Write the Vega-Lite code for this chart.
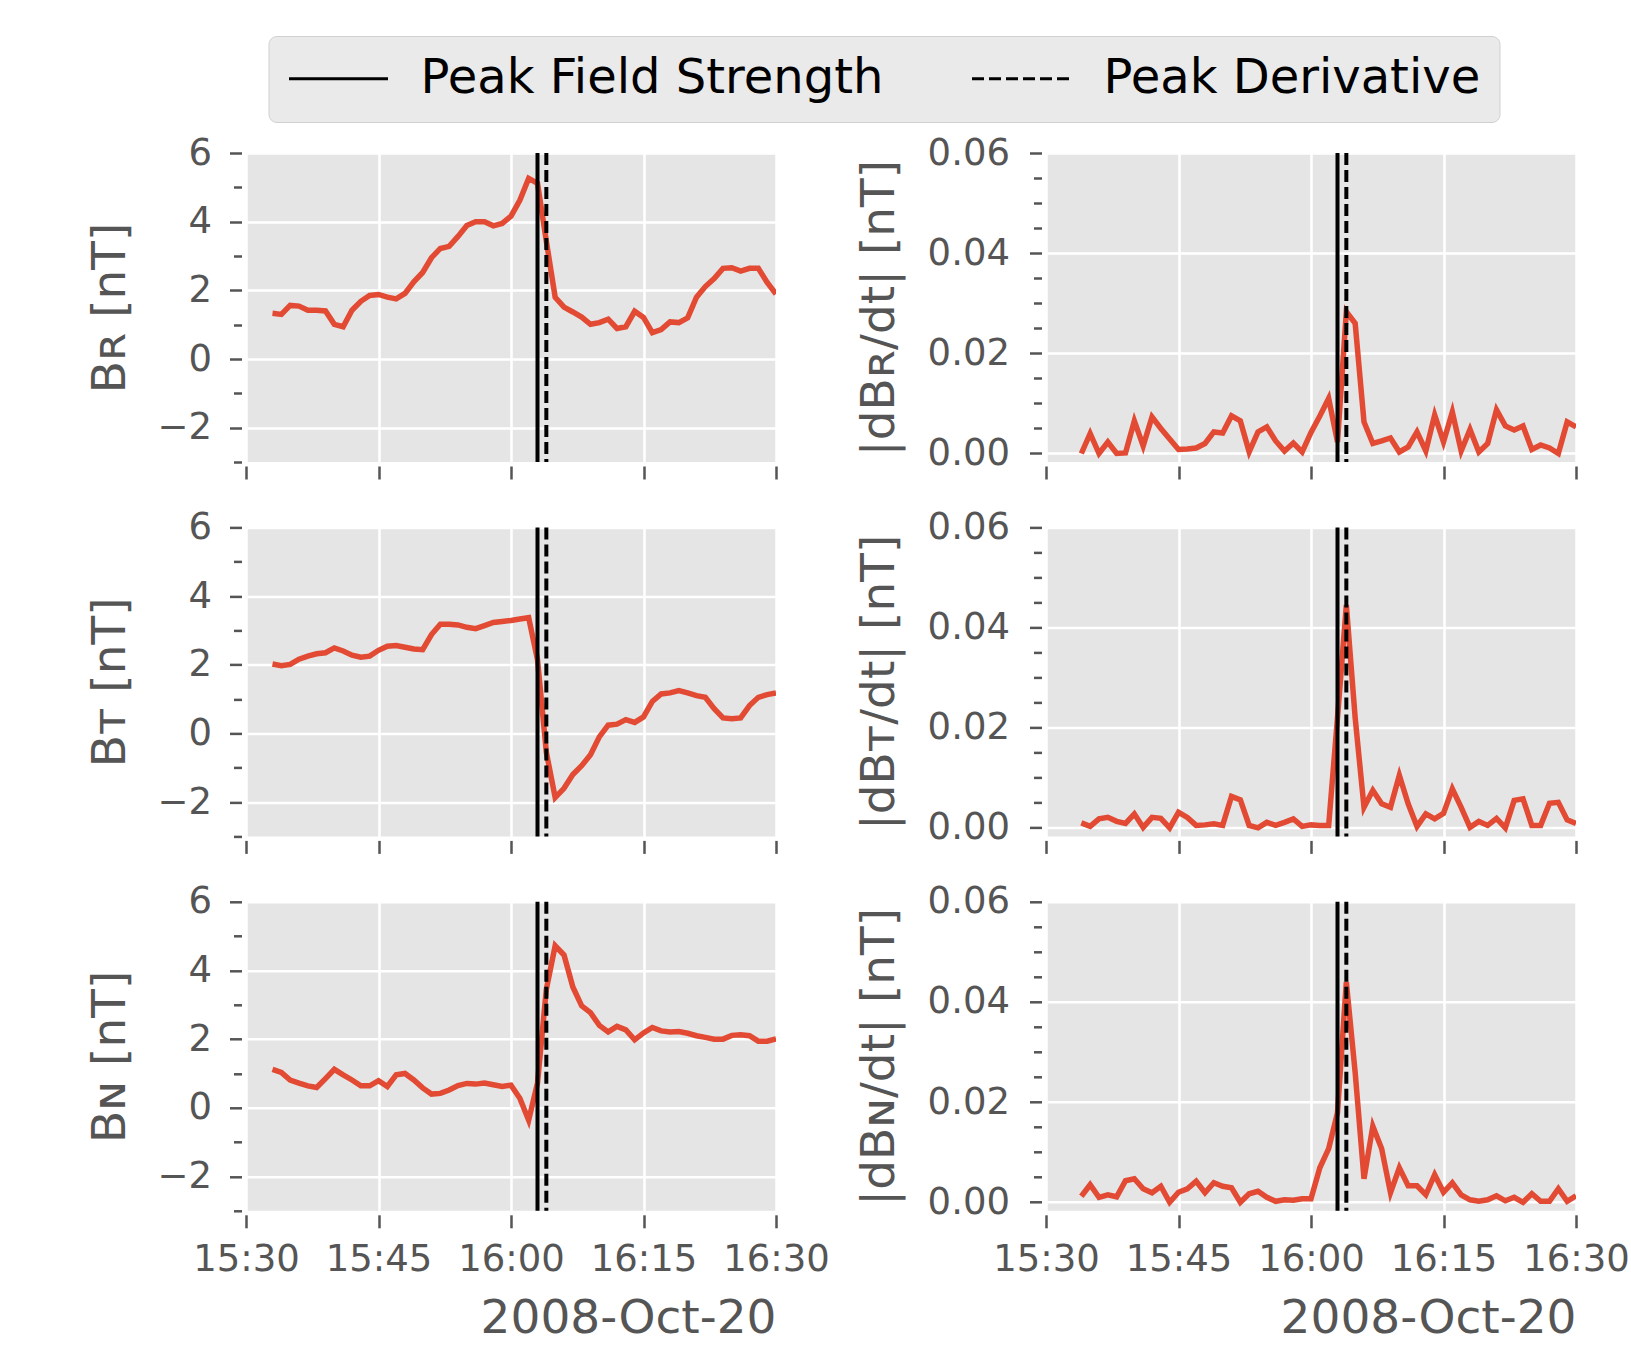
{
"$schema": "https://vega.github.io/schema/vega-lite/v6.json",
"background": "white",
"padding": {"left": 86, "top": 35, "right": 5, "bottom": 5},
"autosize": {"type": "pad"},
"datasets": {
"B": [
{"t":"2008-10-20T15:33:00Z","BR":1.33,"BT":2.02,"BN":1.12},
{"t":"2008-10-20T15:34:00Z","BR":1.30,"BT":1.97,"BN":1.03},
{"t":"2008-10-20T15:35:00Z","BR":1.56,"BT":2.01,"BN":0.81},
{"t":"2008-10-20T15:36:00Z","BR":1.54,"BT":2.16,"BN":0.72},
{"t":"2008-10-20T15:37:00Z","BR":1.42,"BT":2.25,"BN":0.64},
{"t":"2008-10-20T15:38:00Z","BR":1.42,"BT":2.32,"BN":0.59},
{"t":"2008-10-20T15:39:00Z","BR":1.40,"BT":2.35,"BN":0.85},
{"t":"2008-10-20T15:40:00Z","BR":1.01,"BT":2.49,"BN":1.12},
{"t":"2008-10-20T15:41:00Z","BR":0.94,"BT":2.40,"BN":0.96},
{"t":"2008-10-20T15:42:00Z","BR":1.42,"BT":2.28,"BN":0.81},
{"t":"2008-10-20T15:43:00Z","BR":1.68,"BT":2.22,"BN":0.64},
{"t":"2008-10-20T15:44:00Z","BR":1.85,"BT":2.25,"BN":0.64},
{"t":"2008-10-20T15:45:00Z","BR":1.88,"BT":2.42,"BN":0.79},
{"t":"2008-10-20T15:46:00Z","BR":1.80,"BT":2.54,"BN":0.62},
{"t":"2008-10-20T15:47:00Z","BR":1.75,"BT":2.56,"BN":0.96},
{"t":"2008-10-20T15:48:00Z","BR":1.91,"BT":2.51,"BN":1.00},
{"t":"2008-10-20T15:49:00Z","BR":2.25,"BT":2.46,"BN":0.81},
{"t":"2008-10-20T15:50:00Z","BR":2.52,"BT":2.44,"BN":0.58},
{"t":"2008-10-20T15:51:00Z","BR":2.95,"BT":2.88,"BN":0.40},
{"t":"2008-10-20T15:52:00Z","BR":3.22,"BT":3.18,"BN":0.42},
{"t":"2008-10-20T15:53:00Z","BR":3.28,"BT":3.18,"BN":0.52},
{"t":"2008-10-20T15:54:00Z","BR":3.57,"BT":3.16,"BN":0.65},
{"t":"2008-10-20T15:55:00Z","BR":3.89,"BT":3.09,"BN":0.71},
{"t":"2008-10-20T15:56:00Z","BR":4.00,"BT":3.05,"BN":0.69},
{"t":"2008-10-20T15:57:00Z","BR":4.00,"BT":3.14,"BN":0.72},
{"t":"2008-10-20T15:58:00Z","BR":3.88,"BT":3.23,"BN":0.67},
{"t":"2008-10-20T15:59:00Z","BR":3.95,"BT":3.26,"BN":0.62},
{"t":"2008-10-20T16:00:00Z","BR":4.16,"BT":3.29,"BN":0.66},
{"t":"2008-10-20T16:01:00Z","BR":4.62,"BT":3.33,"BN":0.28},
{"t":"2008-10-20T16:02:00Z","BR":5.26,"BT":3.37,"BN":-0.36},
{"t":"2008-10-20T16:03:00Z","BR":5.12,"BT":2.15,"BN":0.72},
{"t":"2008-10-20T16:04:00Z","BR":3.43,"BT":-0.55,"BN":3.45},
{"t":"2008-10-20T16:05:00Z","BR":1.80,"BT":-1.87,"BN":4.72},
{"t":"2008-10-20T16:06:00Z","BR":1.51,"BT":-1.60,"BN":4.45},
{"t":"2008-10-20T16:07:00Z","BR":1.37,"BT":-1.20,"BN":3.52},
{"t":"2008-10-20T16:08:00Z","BR":1.22,"BT":-0.94,"BN":2.97},
{"t":"2008-10-20T16:09:00Z","BR":1.01,"BT":-0.62,"BN":2.77},
{"t":"2008-10-20T16:10:00Z","BR":1.06,"BT":-0.10,"BN":2.40},
{"t":"2008-10-20T16:11:00Z","BR":1.16,"BT":0.24,"BN":2.21},
{"t":"2008-10-20T16:12:00Z","BR":0.89,"BT":0.27,"BN":2.37},
{"t":"2008-10-20T16:13:00Z","BR":0.94,"BT":0.40,"BN":2.27},
{"t":"2008-10-20T16:14:00Z","BR":1.39,"BT":0.32,"BN":1.98},
{"t":"2008-10-20T16:15:00Z","BR":1.21,"BT":0.48,"BN":2.18},
{"t":"2008-10-20T16:16:00Z","BR":0.77,"BT":0.93,"BN":2.34},
{"t":"2008-10-20T16:17:00Z","BR":0.86,"BT":1.15,"BN":2.24},
{"t":"2008-10-20T16:18:00Z","BR":1.08,"BT":1.18,"BN":2.21},
{"t":"2008-10-20T16:19:00Z","BR":1.06,"BT":1.25,"BN":2.22},
{"t":"2008-10-20T16:20:00Z","BR":1.20,"BT":1.18,"BN":2.17},
{"t":"2008-10-20T16:21:00Z","BR":1.80,"BT":1.10,"BN":2.10},
{"t":"2008-10-20T16:22:00Z","BR":2.11,"BT":1.05,"BN":2.05},
{"t":"2008-10-20T16:23:00Z","BR":2.34,"BT":0.72,"BN":2.00},
{"t":"2008-10-20T16:24:00Z","BR":2.64,"BT":0.45,"BN":2.00},
{"t":"2008-10-20T16:25:00Z","BR":2.66,"BT":0.43,"BN":2.11},
{"t":"2008-10-20T16:26:00Z","BR":2.56,"BT":0.45,"BN":2.13},
{"t":"2008-10-20T16:27:00Z","BR":2.64,"BT":0.81,"BN":2.10},
{"t":"2008-10-20T16:28:00Z","BR":2.64,"BT":1.05,"BN":1.94},
{"t":"2008-10-20T16:29:00Z","BR":2.23,"BT":1.13,"BN":1.94},
{"t":"2008-10-20T16:30:00Z","BR":1.89,"BT":1.18,"BN":2.01}
],
"dB": [
{"t":"2008-10-20T15:34:00Z","dBR":0.0,"dBT":0.001,"dBN":0.0012},
{"t":"2008-10-20T15:35:00Z","dBR":0.004,"dBT":0.0003,"dBN":0.0035},
{"t":"2008-10-20T15:36:00Z","dBR":0.0,"dBT":0.0018,"dBN":0.001},
{"t":"2008-10-20T15:37:00Z","dBR":0.0023,"dBT":0.0021,"dBN":0.0015},
{"t":"2008-10-20T15:38:00Z","dBR":0.0,"dBT":0.0013,"dBN":0.0011},
{"t":"2008-10-20T15:39:00Z","dBR":0.0001,"dBT":0.0009,"dBN":0.0043},
{"t":"2008-10-20T15:40:00Z","dBR":0.0065,"dBT":0.0028,"dBN":0.0047},
{"t":"2008-10-20T15:41:00Z","dBR":0.0015,"dBT":0.0001,"dBN":0.0027},
{"t":"2008-10-20T15:42:00Z","dBR":0.0073,"dBT":0.0021,"dBN":0.0019},
{"t":"2008-10-20T15:43:00Z","dBR":0.005,"dBT":0.0019,"dBN":0.0032},
{"t":"2008-10-20T15:44:00Z","dBR":0.0029,"dBT":0.0,"dBN":0.0},
{"t":"2008-10-20T15:45:00Z","dBR":0.0008,"dBT":0.0031,"dBN":0.002},
{"t":"2008-10-20T15:46:00Z","dBR":0.0009,"dBT":0.0021,"dBN":0.0027},
{"t":"2008-10-20T15:47:00Z","dBR":0.0011,"dBT":0.0005,"dBN":0.0042},
{"t":"2008-10-20T15:48:00Z","dBR":0.002,"dBT":0.0006,"dBN":0.0019},
{"t":"2008-10-20T15:49:00Z","dBR":0.0043,"dBT":0.0008,"dBN":0.0039},
{"t":"2008-10-20T15:50:00Z","dBR":0.0041,"dBT":0.0005,"dBN":0.0032},
{"t":"2008-10-20T15:51:00Z","dBR":0.0075,"dBT":0.0063,"dBN":0.0029},
{"t":"2008-10-20T15:52:00Z","dBR":0.0065,"dBT":0.0056,"dBN":0.0},
{"t":"2008-10-20T15:53:00Z","dBR":0.0003,"dBT":0.0005,"dBN":0.0017},
{"t":"2008-10-20T15:54:00Z","dBR":0.0043,"dBT":0.0,"dBN":0.0022},
{"t":"2008-10-20T15:55:00Z","dBR":0.0053,"dBT":0.0011,"dBN":0.001},
{"t":"2008-10-20T15:56:00Z","dBR":0.0025,"dBT":0.0005,"dBN":0.0002},
{"t":"2008-10-20T15:57:00Z","dBR":0.0005,"dBT":0.0011,"dBN":0.0005},
{"t":"2008-10-20T15:58:00Z","dBR":0.0021,"dBT":0.0018,"dBN":0.0004},
{"t":"2008-10-20T15:59:00Z","dBR":0.0003,"dBT":0.0003,"dBN":0.0007},
{"t":"2008-10-20T16:00:00Z","dBR":0.0042,"dBT":0.0006,"dBN":0.0007},
{"t":"2008-10-20T16:01:00Z","dBR":0.0075,"dBT":0.0005,"dBN":0.0069},
{"t":"2008-10-20T16:02:00Z","dBR":0.011,"dBT":0.0005,"dBN":0.0107},
{"t":"2008-10-20T16:03:00Z","dBR":0.0023,"dBT":0.022,"dBN":0.0179},
{"t":"2008-10-20T16:04:00Z","dBR":0.0283,"dBT":0.0445,"dBN":0.044},
{"t":"2008-10-20T16:05:00Z","dBR":0.026,"dBT":0.022,"dBN":0.0259},
{"t":"2008-10-20T16:06:00Z","dBR":0.0063,"dBT":0.0041,"dBN":0.0047},
{"t":"2008-10-20T16:07:00Z","dBR":0.002,"dBT":0.0075,"dBN":0.0152},
{"t":"2008-10-20T16:08:00Z","dBR":0.0025,"dBT":0.0048,"dBN":0.0107},
{"t":"2008-10-20T16:09:00Z","dBR":0.0031,"dBT":0.0041,"dBN":0.0019},
{"t":"2008-10-20T16:10:00Z","dBR":0.0003,"dBT":0.0105,"dBN":0.0069},
{"t":"2008-10-20T16:11:00Z","dBR":0.0013,"dBT":0.0048,"dBN":0.0033},
{"t":"2008-10-20T16:12:00Z","dBR":0.0043,"dBT":0.0003,"dBN":0.0033},
{"t":"2008-10-20T16:13:00Z","dBR":0.0005,"dBT":0.0028,"dBN":0.0015},
{"t":"2008-10-20T16:14:00Z","dBR":0.0077,"dBT":0.0018,"dBN":0.0055},
{"t":"2008-10-20T16:15:00Z","dBR":0.0023,"dBT":0.0029,"dBN":0.002},
{"t":"2008-10-20T16:16:00Z","dBR":0.0083,"dBT":0.0078,"dBN":0.0039},
{"t":"2008-10-20T16:17:00Z","dBR":0.0005,"dBT":0.0041,"dBN":0.0015},
{"t":"2008-10-20T16:18:00Z","dBR":0.0048,"dBT":0.0001,"dBN":0.0005},
{"t":"2008-10-20T16:19:00Z","dBR":0.0003,"dBT":0.0013,"dBN":0.0002},
{"t":"2008-10-20T16:20:00Z","dBR":0.002,"dBT":0.0005,"dBN":0.0005},
{"t":"2008-10-20T16:21:00Z","dBR":0.0087,"dBT":0.0019,"dBN":0.0013},
{"t":"2008-10-20T16:22:00Z","dBR":0.0055,"dBT":0.0,"dBN":0.0003},
{"t":"2008-10-20T16:23:00Z","dBR":0.0047,"dBT":0.0055,"dBN":0.001},
{"t":"2008-10-20T16:24:00Z","dBR":0.0055,"dBT":0.0058,"dBN":0.0},
{"t":"2008-10-20T16:25:00Z","dBR":0.0008,"dBT":0.0005,"dBN":0.0017},
{"t":"2008-10-20T16:26:00Z","dBR":0.0017,"dBT":0.0005,"dBN":0.0002},
{"t":"2008-10-20T16:27:00Z","dBR":0.0011,"dBT":0.0049,"dBN":0.0002},
{"t":"2008-10-20T16:28:00Z","dBR":0.0,"dBT":0.0051,"dBN":0.0027},
{"t":"2008-10-20T16:29:00Z","dBR":0.0063,"dBT":0.0016,"dBN":0.0002},
{"t":"2008-10-20T16:30:00Z","dBR":0.0053,"dBT":0.0009,"dBN":0.0013}
],
"markers": [
{"t":"2008-10-20T16:03:00Z","type":"Peak Field Strength"},
{"t":"2008-10-20T16:04:00Z","type":"Peak Derivative"}
]
},
"columns": 2,
"spacing": {"row": 65.4, "column": 270},
"bounds": "flush",
"concat": [
{"width":530,"height":309,
 "encoding":{"x":{"field":"t","type":"temporal","scale":{"type":"utc","domain":[{"year":2008,"month":10,"date":20,"hours":15,"minutes":30,"utc":true},{"year":2008,"month":10,"date":20,"hours":16,"minutes":30,"utc":true}]},
  "axis":{"values":[{"year":2008,"month":10,"date":20,"hours":15,"minutes":30,"utc":true},{"year":2008,"month":10,"date":20,"hours":15,"minutes":45,"utc":true},{"year":2008,"month":10,"date":20,"hours":16,"minutes":0,"utc":true},{"year":2008,"month":10,"date":20,"hours":16,"minutes":15,"utc":true},{"year":2008,"month":10,"date":20,"hours":16,"minutes":30,"utc":true}],"labels":false,"title":null,"tickSize":13,"offset":4}}},
 "layer":[
  {"data":{"name":"B"},"mark":{"type":"line","color":"#E24A33","strokeWidth":5.5,"clip":true},
   "encoding":{"y":{"field":"BR","type":"quantitative","scale":{"domain":[-3,6],"nice":false,"zero":false},
    "axis":{"values":[-3,-2.5,-2,-1.5,-1,-0.5,0,0.5,1,1.5,2,2.5,3,3.5,4,4.5,5,5.5,6],"format":"d","labelExpr":"datum.value % 2 === 0 ? datum.label : ''","tickSize":{"condition":{"test":"datum.value % 2 === 0","value":12},"value":8},"gridOpacity":{"condition":{"test":"datum.value % 2 === 0","value":1},"value":0},"offset":4.5,"labelPadding":18,"title":"Bʀ [nT]","titlePadding":22}}}},
  {"data":{"name":"markers"},"mark":{"type":"rule","color":"black","strokeWidth":4},
   "encoding":{"strokeDash":{"field":"type","type":"nominal","scale":{"domain":["Peak Field Strength","Peak Derivative"],"range":[[1,0],[12,5]]},"legend":{"orient":"none","legendX":22.5,"legendY":-117,"direction":"horizontal","title":null}}}}
 ]},
{"width":530,"height":309,
 "encoding":{"x":{"field":"t","type":"temporal","scale":{"type":"utc","domain":[{"year":2008,"month":10,"date":20,"hours":15,"minutes":30,"utc":true},{"year":2008,"month":10,"date":20,"hours":16,"minutes":30,"utc":true}]},
  "axis":{"values":[{"year":2008,"month":10,"date":20,"hours":15,"minutes":30,"utc":true},{"year":2008,"month":10,"date":20,"hours":15,"minutes":45,"utc":true},{"year":2008,"month":10,"date":20,"hours":16,"minutes":0,"utc":true},{"year":2008,"month":10,"date":20,"hours":16,"minutes":15,"utc":true},{"year":2008,"month":10,"date":20,"hours":16,"minutes":30,"utc":true}],"labels":false,"title":null,"tickSize":13,"offset":4}}},
 "layer":[
  {"data":{"name":"dB"},"mark":{"type":"line","color":"#E24A33","strokeWidth":5.5,"clip":true},
   "encoding":{"y":{"field":"dBR","type":"quantitative","scale":{"domain":[-0.0017,0.06],"nice":false,"zero":false},
    "axis":{"values":[0,0.005,0.01,0.015,0.02,0.025,0.03,0.035,0.04,0.045,0.05,0.055,0.06],"format":".2f","labelExpr":"abs(datum.value*50 - round(datum.value*50)) < 0.01 ? datum.label : ''","tickSize":{"condition":{"test":"abs(datum.value*50 - round(datum.value*50)) < 0.01","value":12},"value":8},"gridOpacity":{"condition":{"test":"abs(datum.value*50 - round(datum.value*50)) < 0.01","value":1},"value":0},"offset":4.5,"labelPadding":20,"title":"|dBʀ/dt| [nT]","titlePadding":24}}}},
  {"data":{"name":"markers"},"mark":{"type":"rule","color":"black","strokeWidth":4},
   "encoding":{"strokeDash":{"field":"type","type":"nominal","scale":{"domain":["Peak Field Strength","Peak Derivative"],"range":[[1,0],[12,5]]},"legend":{"orient":"none","legendX":22.5,"legendY":-117,"direction":"horizontal","title":null}}}}
 ]},
{"width":530,"height":309,
 "encoding":{"x":{"field":"t","type":"temporal","scale":{"type":"utc","domain":[{"year":2008,"month":10,"date":20,"hours":15,"minutes":30,"utc":true},{"year":2008,"month":10,"date":20,"hours":16,"minutes":30,"utc":true}]},
  "axis":{"values":[{"year":2008,"month":10,"date":20,"hours":15,"minutes":30,"utc":true},{"year":2008,"month":10,"date":20,"hours":15,"minutes":45,"utc":true},{"year":2008,"month":10,"date":20,"hours":16,"minutes":0,"utc":true},{"year":2008,"month":10,"date":20,"hours":16,"minutes":15,"utc":true},{"year":2008,"month":10,"date":20,"hours":16,"minutes":30,"utc":true}],"labels":false,"title":null,"tickSize":13,"offset":4}}},
 "layer":[
  {"data":{"name":"B"},"mark":{"type":"line","color":"#E24A33","strokeWidth":5.5,"clip":true},
   "encoding":{"y":{"field":"BT","type":"quantitative","scale":{"domain":[-3,6],"nice":false,"zero":false},
    "axis":{"values":[-3,-2.5,-2,-1.5,-1,-0.5,0,0.5,1,1.5,2,2.5,3,3.5,4,4.5,5,5.5,6],"format":"d","labelExpr":"datum.value % 2 === 0 ? datum.label : ''","tickSize":{"condition":{"test":"datum.value % 2 === 0","value":12},"value":8},"gridOpacity":{"condition":{"test":"datum.value % 2 === 0","value":1},"value":0},"offset":4.5,"labelPadding":18,"title":"Bᴛ [nT]","titlePadding":22}}}},
  {"data":{"name":"markers"},"mark":{"type":"rule","color":"black","strokeWidth":4},
   "encoding":{"strokeDash":{"field":"type","type":"nominal","scale":{"domain":["Peak Field Strength","Peak Derivative"],"range":[[1,0],[12,5]]},"legend":{"orient":"none","legendX":22.5,"legendY":-117,"direction":"horizontal","title":null}}}}
 ]},
{"width":530,"height":309,
 "encoding":{"x":{"field":"t","type":"temporal","scale":{"type":"utc","domain":[{"year":2008,"month":10,"date":20,"hours":15,"minutes":30,"utc":true},{"year":2008,"month":10,"date":20,"hours":16,"minutes":30,"utc":true}]},
  "axis":{"values":[{"year":2008,"month":10,"date":20,"hours":15,"minutes":30,"utc":true},{"year":2008,"month":10,"date":20,"hours":15,"minutes":45,"utc":true},{"year":2008,"month":10,"date":20,"hours":16,"minutes":0,"utc":true},{"year":2008,"month":10,"date":20,"hours":16,"minutes":15,"utc":true},{"year":2008,"month":10,"date":20,"hours":16,"minutes":30,"utc":true}],"labels":false,"title":null,"tickSize":13,"offset":4}}},
 "layer":[
  {"data":{"name":"dB"},"mark":{"type":"line","color":"#E24A33","strokeWidth":5.5,"clip":true},
   "encoding":{"y":{"field":"dBT","type":"quantitative","scale":{"domain":[-0.0017,0.06],"nice":false,"zero":false},
    "axis":{"values":[0,0.005,0.01,0.015,0.02,0.025,0.03,0.035,0.04,0.045,0.05,0.055,0.06],"format":".2f","labelExpr":"abs(datum.value*50 - round(datum.value*50)) < 0.01 ? datum.label : ''","tickSize":{"condition":{"test":"abs(datum.value*50 - round(datum.value*50)) < 0.01","value":12},"value":8},"gridOpacity":{"condition":{"test":"abs(datum.value*50 - round(datum.value*50)) < 0.01","value":1},"value":0},"offset":4.5,"labelPadding":20,"title":"|dBᴛ/dt| [nT]","titlePadding":24}}}},
  {"data":{"name":"markers"},"mark":{"type":"rule","color":"black","strokeWidth":4},
   "encoding":{"strokeDash":{"field":"type","type":"nominal","scale":{"domain":["Peak Field Strength","Peak Derivative"],"range":[[1,0],[12,5]]},"legend":{"orient":"none","legendX":22.5,"legendY":-117,"direction":"horizontal","title":null}}}}
 ]},
{"width":530,"height":309,
 "encoding":{"x":{"field":"t","type":"temporal","scale":{"type":"utc","domain":[{"year":2008,"month":10,"date":20,"hours":15,"minutes":30,"utc":true},{"year":2008,"month":10,"date":20,"hours":16,"minutes":30,"utc":true}]},
  "axis":{"values":[{"year":2008,"month":10,"date":20,"hours":15,"minutes":30,"utc":true},{"year":2008,"month":10,"date":20,"hours":15,"minutes":45,"utc":true},{"year":2008,"month":10,"date":20,"hours":16,"minutes":0,"utc":true},{"year":2008,"month":10,"date":20,"hours":16,"minutes":15,"utc":true},{"year":2008,"month":10,"date":20,"hours":16,"minutes":30,"utc":true}],"labelExpr":"utcFormat(datum.value, '%H:%M')","labels":true,"labelPadding":14,"title":"2008-Oct-20","titleAnchor":"end","titlePadding":18,"tickSize":13,"offset":4}}},
 "layer":[
  {"data":{"name":"B"},"mark":{"type":"line","color":"#E24A33","strokeWidth":5.5,"clip":true},
   "encoding":{"y":{"field":"BN","type":"quantitative","scale":{"domain":[-3,6],"nice":false,"zero":false},
    "axis":{"values":[-3,-2.5,-2,-1.5,-1,-0.5,0,0.5,1,1.5,2,2.5,3,3.5,4,4.5,5,5.5,6],"format":"d","labelExpr":"datum.value % 2 === 0 ? datum.label : ''","tickSize":{"condition":{"test":"datum.value % 2 === 0","value":12},"value":8},"gridOpacity":{"condition":{"test":"datum.value % 2 === 0","value":1},"value":0},"offset":4.5,"labelPadding":18,"title":"Bɴ [nT]","titlePadding":22}}}},
  {"data":{"name":"markers"},"mark":{"type":"rule","color":"black","strokeWidth":4},
   "encoding":{"strokeDash":{"field":"type","type":"nominal","scale":{"domain":["Peak Field Strength","Peak Derivative"],"range":[[1,0],[12,5]]},"legend":{"orient":"none","legendX":22.5,"legendY":-117,"direction":"horizontal","title":null}}}}
 ]},
{"width":530,"height":309,
 "encoding":{"x":{"field":"t","type":"temporal","scale":{"type":"utc","domain":[{"year":2008,"month":10,"date":20,"hours":15,"minutes":30,"utc":true},{"year":2008,"month":10,"date":20,"hours":16,"minutes":30,"utc":true}]},
  "axis":{"values":[{"year":2008,"month":10,"date":20,"hours":15,"minutes":30,"utc":true},{"year":2008,"month":10,"date":20,"hours":15,"minutes":45,"utc":true},{"year":2008,"month":10,"date":20,"hours":16,"minutes":0,"utc":true},{"year":2008,"month":10,"date":20,"hours":16,"minutes":15,"utc":true},{"year":2008,"month":10,"date":20,"hours":16,"minutes":30,"utc":true}],"labelExpr":"utcFormat(datum.value, '%H:%M')","labels":true,"labelPadding":14,"title":"2008-Oct-20","titleAnchor":"end","titlePadding":18,"tickSize":13,"offset":4}}},
 "layer":[
  {"data":{"name":"dB"},"mark":{"type":"line","color":"#E24A33","strokeWidth":5.5,"clip":true},
   "encoding":{"y":{"field":"dBN","type":"quantitative","scale":{"domain":[-0.0017,0.06],"nice":false,"zero":false},
    "axis":{"values":[0,0.005,0.01,0.015,0.02,0.025,0.03,0.035,0.04,0.045,0.05,0.055,0.06],"format":".2f","labelExpr":"abs(datum.value*50 - round(datum.value*50)) < 0.01 ? datum.label : ''","tickSize":{"condition":{"test":"abs(datum.value*50 - round(datum.value*50)) < 0.01","value":12},"value":8},"gridOpacity":{"condition":{"test":"abs(datum.value*50 - round(datum.value*50)) < 0.01","value":1},"value":0},"offset":4.5,"labelPadding":20,"title":"|dBɴ/dt| [nT]","titlePadding":24}}}},
  {"data":{"name":"markers"},"mark":{"type":"rule","color":"black","strokeWidth":4},
   "encoding":{"strokeDash":{"field":"type","type":"nominal","scale":{"domain":["Peak Field Strength","Peak Derivative"],"range":[[1,0],[12,5]]},"legend":{"orient":"none","legendX":22.5,"legendY":-117,"direction":"horizontal","title":null}}}}
 ]}
],
"config": {
 "font": "DejaVu Sans",
 "view": {"fill": "#E5E5E5", "stroke": null},
 "axis": {"labelFont":"DejaVu Sans","titleFont":"DejaVu Sans","labelFontSize":37,"titleFontSize":47,"titleFontWeight":"normal","labelColor":"#555555","titleColor":"#555555","tickColor":"#555555","tickWidth":2.5,"gridColor":"#FFFFFF","gridWidth":2.5,"domain":false,"labelFlush":false,"labelOverlap":false,"labelBound":false},
 "legend": {"symbolType":"stroke","symbolSize":9801,"symbolStrokeWidth":3,"symbolStrokeColor":"black","clipHeight":47,"labelFont":"DejaVu Sans","labelFontSize":48,"labelColor":"black","labelOffset":31,"labelLimit":2000,"columnPadding":87,"padding":19,"fillColor":"#EAEAEA","strokeColor":"#D0D0D0","cornerRadius":8}
}
}
